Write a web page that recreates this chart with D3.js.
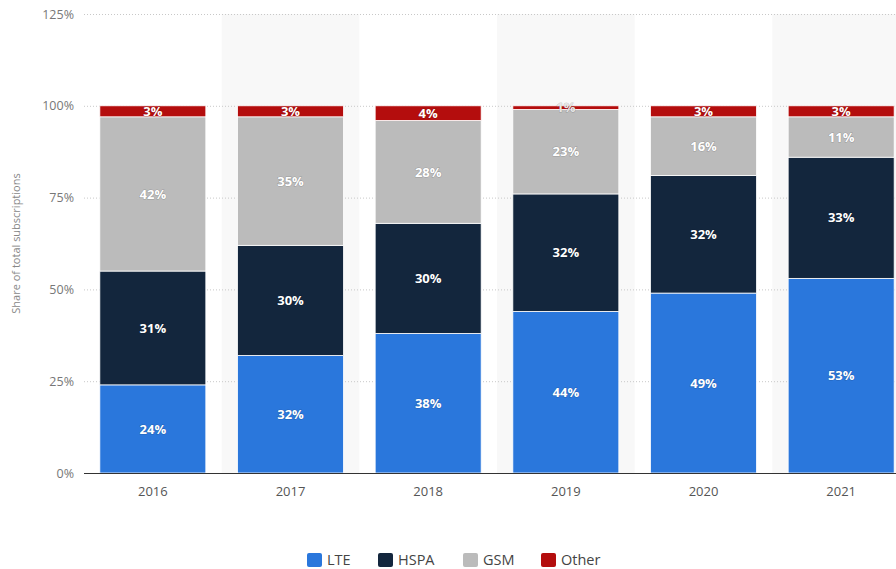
<!DOCTYPE html>
<html>
<head>
<meta charset="utf-8">
<script src="https://cdn.jsdelivr.net/npm/d3@7"></script>
<style>
  html, body { margin: 0; padding: 0; background: #fff; }
  svg { display: block; font-family: "Open Sans", "Noto Sans", sans-serif; }
</style>
</head>
<body>
<svg id="chart" width="896" height="569"></svg>
<script>
// Mobile subscriptions by technology, share of total
const years = ["2016", "2017", "2018", "2019", "2020", "2021"];
const seriesNames = ["LTE", "HSPA", "GSM", "Other"];
const lte   = [24, 32, 38, 44, 49, 53];
const hspa  = [31, 30, 30, 32, 32, 33];
const gsm   = [42, 35, 28, 23, 16, 11];
const other = [3, 3, 4, 1, 3, 3];
const yTicks = [0, 25, 50, 75, 100, 125];
const colors = ["#2a77dc", "#13263d", "#bbbbbb", "#b40d0d"];

const rows = years.map((y, i) => ({ year: y, LTE: lte[i], HSPA: hspa[i], GSM: gsm[i], Other: other[i] }));

const svg = d3.select("#chart");
const margin = { left: 84, top: 14, bottom: 96 };
const plotW = 826; // plot runs past the right edge of the frame
const height = 569;
const y0 = height - margin.bottom; // 473

const x = d3.scaleBand().domain(years).range([margin.left, margin.left + plotW]).paddingInner(0.23).paddingOuter(0.115);
const step = x.step();
const y = d3.scaleLinear().domain([0, 125]).range([y0, margin.top]);

// alternating column shading
svg.append("g").selectAll("rect")
  .data(years.filter((d, i) => i % 2 === 1))
  .join("rect")
  .attr("x", d => x(d) + x.bandwidth() / 2 - step / 2)
  .attr("width", step)
  .attr("y", y(125))
  .attr("height", y(0) - y(125))
  .attr("fill", "#f8f8f8");

// gridlines
svg.append("g").selectAll("line")
  .data(yTicks.filter(t => t > 0))
  .join("line")
  .attr("x1", margin.left).attr("x2", 896)
  .attr("y1", d => y(d) + 0.5).attr("y2", d => y(d) + 0.5)
  .attr("stroke", "#c8c8c8")
  .attr("stroke-dasharray", "1,2");

// y axis labels
const yAxis = d3.axisLeft(y).tickValues(yTicks).tickFormat(d => d + "%").tickSize(0).tickPadding(10);
const yg = svg.append("g").attr("transform", `translate(${margin.left},0)`).call(yAxis);
yg.select(".domain").remove();
yg.selectAll("text").attr("fill", "#777").attr("font-size", 12.5).attr("font-family", "Open Sans, sans-serif");

// y axis title
svg.append("text")
  .attr("transform", `translate(20,${y(62.5)}) rotate(-90)`)
  .attr("text-anchor", "middle")
  .attr("fill", "#888")
  .attr("font-size", 11)
  .text("Share of total subscriptions");

// stacked bars
const stack = d3.stack().keys(seriesNames)(rows);
const layers = svg.append("g").selectAll("g")
  .data(stack)
  .join("g")
  .attr("fill", (d, i) => colors[i]);

layers.selectAll("rect")
  .data(d => d)
  .join("rect")
  .attr("x", d => x(d.data.year))
  .attr("width", x.bandwidth())
  .attr("y", d => y(d[1]))
  .attr("height", d => y(d[0]) - y(d[1]))
  .attr("stroke", "#fff")
  .attr("stroke-width", 0.8);

// value labels
const labels = svg.append("g");
stack.forEach((layer, li) => {
  layer.forEach(d => {
    const v = d[1] - d[0];
    labels.append("text")
      .attr("x", x(d.data.year) + x.bandwidth() / 2)
      .attr("y", (y(d[0]) + y(d[1])) / 2)
      .attr("dy", "0.36em")
      .attr("text-anchor", "middle")
      .attr("font-size", 13)
      .attr("font-weight", 700)
      .attr("fill", v < 2 ? "#e6e6e6" : "#fff")
      .attr("style", "paint-order: stroke; stroke: rgba(0,0,0,0.18); stroke-width: 1.2px;")
      .text(v + "%");
  });
});

// x axis
const xAxis = d3.axisBottom(x).tickSize(0).tickPadding(14);
const xg = svg.append("g").attr("transform", `translate(0,${y0})`).call(xAxis);
xg.select(".domain").attr("stroke", "#333").attr("stroke-width", 1.2)
  .attr("d", `M${margin.left},0.5H896`);
xg.selectAll("text").attr("fill", "#555").attr("font-size", 13).attr("font-family", "Open Sans, sans-serif");

// legend
const legendX = [307, 378, 463, 541];
const lg = svg.append("g").attr("transform", `translate(0,560)`);
seriesNames.forEach((s, i) => {
  lg.append("rect")
    .attr("x", legendX[i]).attr("y", -7)
    .attr("width", 15).attr("height", 14)
    .attr("rx", 2)
    .attr("fill", colors[i]);
  lg.append("text")
    .attr("x", legendX[i] + 20).attr("y", 0)
    .attr("dy", "0.36em")
    .attr("fill", "#444")
    .attr("font-size", 14.5)
    .text(s);
});
</script>
</body>
</html>
